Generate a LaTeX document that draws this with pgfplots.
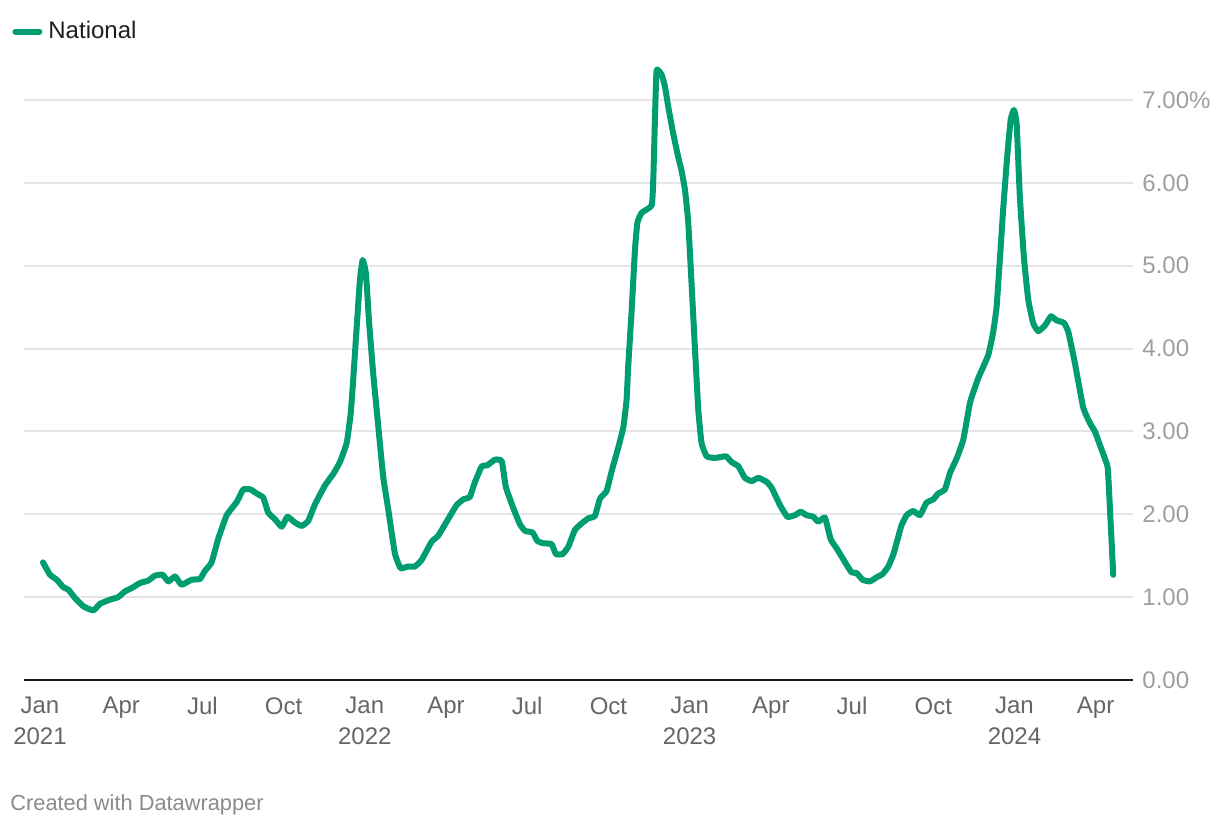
\documentclass[border=0pt]{standalone}
\usepackage{pgfplots}
\pgfplotsset{compat=1.18}
\usepackage{fontspec}
\setmainfont{Liberation Sans}

\definecolor{natgreen}{RGB}{0,157,113}
\definecolor{gridgray}{RGB}{229,229,229}
\definecolor{xlabgray}{RGB}{102,102,102}
\definecolor{ylabgray}{RGB}{158,158,158}
\definecolor{footgray}{RGB}{138,138,138}
\definecolor{legtext}{RGB}{30,30,30}

\begin{document}
\begin{tikzpicture}
% page frame: 1220 x 826 px at 0.5pt per px
\path[use as bounding box] (-12pt,-73pt) rectangle (598pt,340pt);
\begin{axis}[
    name=ax, at={(0,0)}, anchor=south west,
    scale only axis, width=554.5pt, height=290pt,
    xmin=-0.591, xmax=40.38, ymin=0, ymax=7,
    clip=false,
    axis x line*=bottom, axis y line*=right,
    x axis line style={-, draw=black!90, line width=1.1pt},
    y axis line style={draw=none},
    major tick length=0pt,
    ymajorgrids, grid style={draw=gridgray, line width=1pt},
    xtick={0,3,...,39},
    xticklabels={Jan\\2021, Apr, Jul, Oct, Jan\\2022, Apr, Jul, Oct,
                 Jan\\2023, Apr, Jul, Oct, Jan\\2024, Apr},
    ytick={0,1,...,7},
    yticklabels={0.00,1.00,2.00,3.00,4.00,5.00,6.00,7.00\%},
    xticklabel style={align=center, font=\fontsize{12}{15.5}\selectfont,
                      text=xlabgray, inner sep=0pt, anchor=north, yshift=-8.5pt},
    yticklabel style={anchor=west, inner sep=0pt, xshift=4.5pt,
                      font=\fontsize{12}{14}\selectfont, text=ylabgray},
    legend style={at={(-0.0108,1.118)}, anchor=west, draw=none, fill=none,
                  inner sep=0pt, font=\fontsize{12}{14}\selectfont, text=legtext},
    legend cell align=left,
    legend image code/.code={\draw[natgreen, line width=3pt, line cap=round] (1.5pt,0pt) -- (13.5pt,0pt);
                             \path (14.5pt,0pt);},
]

\addplot[natgreen, line width=3pt, line cap=round, line join=round, smooth, tension=0.25]
coordinates {
(0.11,1.42)(0.37,1.27)(0.62,1.21)(0.86,1.12)(1.05,1.09)(1.29,0.99)(1.60,0.89)
(1.97,0.84)(2.22,0.92)(2.59,0.97)(2.89,1.00)(3.14,1.07)(3.39,1.11)(3.69,1.17)
(4.00,1.20)(4.25,1.26)(4.53,1.27)(4.74,1.19)(4.99,1.25)(5.23,1.15)(5.60,1.21)
(5.91,1.22)(6.10,1.32)(6.34,1.42)(6.59,1.71)(6.90,1.99)(7.27,2.15)(7.51,2.30)
(7.78,2.30)(8.01,2.25)(8.25,2.20)(8.43,2.02)(8.68,1.94)(8.93,1.85)(9.14,1.97)
(9.42,1.90)(9.67,1.86)(9.91,1.92)(10.16,2.12)(10.53,2.35)(10.84,2.49)(11.08,2.63)
(11.33,2.86)(11.48,3.22)(11.57,3.62)(11.70,4.26)(11.82,4.83)(11.92,5.07)(12.04,4.91)
(12.16,4.31)(12.31,3.70)(12.50,3.05)(12.68,2.45)(12.87,2.05)(13.11,1.53)(13.32,1.35)
(13.60,1.37)(13.85,1.37)(14.10,1.45)(14.47,1.67)(14.71,1.74)(15.02,1.91)(15.39,2.11)
(15.64,2.18)(15.88,2.21)(16.07,2.39)(16.32,2.58)(16.52,2.59)(16.81,2.66)(17.06,2.64)
(17.21,2.33)(17.48,2.08)(17.73,1.88)(17.92,1.80)(18.20,1.78)(18.37,1.68)(18.59,1.65)
(18.90,1.64)(19.06,1.52)(19.31,1.52)(19.52,1.61)(19.76,1.81)(20.01,1.89)(20.25,1.95)
(20.50,1.98)(20.69,2.19)(20.93,2.28)(21.16,2.57)(21.36,2.80)(21.55,3.05)(21.67,3.38)
(21.73,3.78)(21.86,4.47)(21.98,5.19)(22.07,5.52)(22.23,5.64)(22.60,5.73)(22.66,6.07)
(22.72,6.79)(22.78,7.36)(22.97,7.30)(23.09,7.16)(23.21,6.92)(23.39,6.60)(23.58,6.31)
(23.70,6.15)(23.83,5.91)(23.95,5.52)(24.07,4.79)(24.20,3.98)(24.32,3.26)(24.44,2.86)
(24.63,2.70)(24.94,2.68)(25.34,2.70)(25.55,2.63)(25.80,2.58)(26.04,2.44)(26.29,2.40)
(26.54,2.44)(26.85,2.39)(27.03,2.32)(27.34,2.11)(27.61,1.97)(27.89,1.99)(28.10,2.03)
(28.32,1.99)(28.57,1.97)(28.75,1.91)(29.00,1.96)(29.21,1.70)(29.43,1.59)(29.80,1.39)
(29.98,1.30)(30.17,1.29)(30.39,1.21)(30.66,1.19)(30.91,1.24)(31.13,1.28)(31.34,1.37)
(31.52,1.51)(31.71,1.73)(31.83,1.87)(32.02,1.99)(32.26,2.04)(32.51,1.99)(32.75,2.14)
(33.00,2.18)(33.18,2.25)(33.43,2.30)(33.62,2.50)(33.86,2.67)(34.11,2.90)(34.36,3.35)
(34.66,3.64)(35.03,3.92)(35.21,4.19)(35.34,4.50)(35.46,5.07)(35.59,5.71)(35.73,6.31)
(35.86,6.76)(35.98,6.88)(36.08,6.72)(36.20,5.83)(36.35,5.10)(36.51,4.59)(36.69,4.31)
(36.88,4.21)(37.13,4.28)(37.35,4.39)(37.56,4.34)(37.83,4.31)(37.99,4.20)(38.23,3.83)
(38.54,3.29)(38.79,3.10)(38.97,3.00)(39.22,2.78)(39.40,2.62)(39.46,2.50)(39.65,1.27)
};
\addlegendentry{National}
\end{axis}
\node[anchor=base west, inner sep=0pt, text=footgray,
      font=\fontsize{10.9}{12}\selectfont] at (-7pt,-65pt) {Created with Datawrapper};
\end{tikzpicture}
\end{document}
